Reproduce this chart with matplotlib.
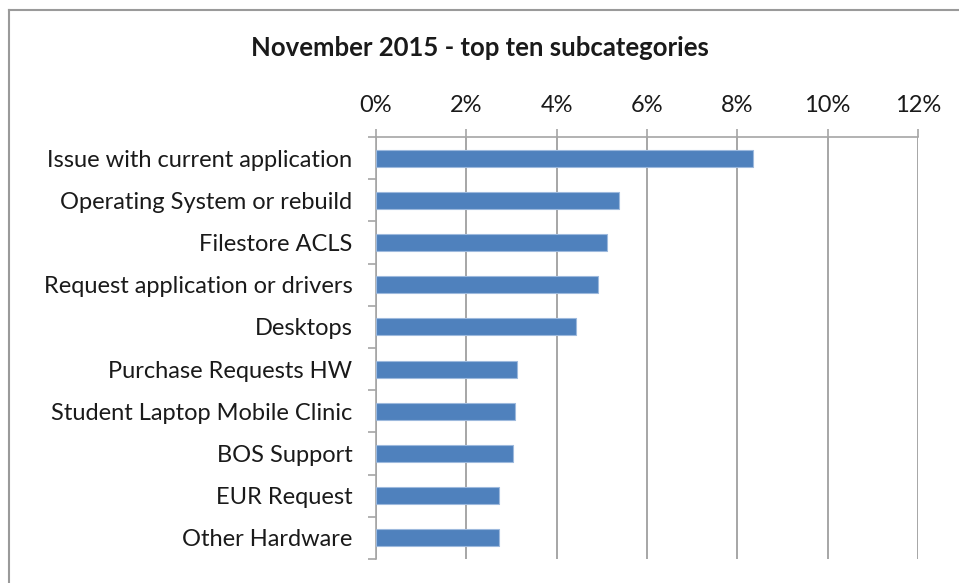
import matplotlib
matplotlib.use("Agg")
import matplotlib.pyplot as plt
from matplotlib.ticker import PercentFormatter, FixedLocator
from matplotlib.lines import Line2D
import numpy as np

categories = [
    "Issue with current application",
    "Operating System or rebuild",
    "Filestore ACLS",
    "Request application or drivers",
    "Desktops",
    "Purchase Requests HW",
    "Student Laptop Mobile Clinic",
    "BOS Support",
    "EUR Request",
    "Other Hardware",
]
values = [8.34, 5.37, 5.12, 4.92, 4.43, 3.12, 3.07, 3.04, 2.72, 2.72]
x_ticks = [0, 2, 4, 6, 8, 10, 12]
title = "November 2015 - top ten subcategories"

plt.rcParams['font.family'] = ['Lato', 'DejaVu Sans']

W, H = 959, 583
fig = plt.figure(figsize=(W / 100, H / 100), dpi=100)
fig.patch.set_facecolor("white")

# plot area in pixels
left, right, top, bottom = 376, 918, 137, 559
ax = fig.add_axes([left / W, 1 - bottom / H, (right - left) / W, (bottom - top) / H])

y = np.arange(len(categories))
ax.barh(y, values, height=0.4, color="#4F81BD", edgecolor="#9DB9DD", linewidth=0.8, zorder=3)

ax.set_xlim(0, 12)
ax.set_ylim(len(categories) - 0.5, -0.5)

ax.xaxis.set_ticks_position("top")
ax.set_xticks(x_ticks)
ax.xaxis.set_major_formatter(PercentFormatter(decimals=0))
ax.tick_params(axis="x", which="major", direction="out", length=6, width=1.2,
               color="#A6A6A6", labelsize=17, pad=9, labelcolor="#1a1a1a")
ax.grid(axis="x", color="#A6A6A6", linewidth=1.4, zorder=0)

ax.set_yticks(y)
ax.set_yticklabels(categories)
ax.yaxis.set_minor_locator(FixedLocator(np.arange(-0.5, len(categories), 1.0)))
ax.tick_params(axis="y", which="major", length=0, labelsize=17, pad=17, labelcolor="#1a1a1a")
ax.tick_params(axis="y", which="minor", direction="out", length=6, width=1.2, color="#A6A6A6")

for s in ["right", "bottom"]:
    ax.spines[s].set_visible(False)
for s in ["left", "top"]:
    ax.spines[s].set_color("#A6A6A6")
    ax.spines[s].set_linewidth(1.2)

fig.text(480 / W, 1 - 48 / H, title, ha="center", va="center",
         fontsize=18.5, fontweight="bold", color="#1a1a1a")

# outer chart border (top and left visible)
fig.add_artist(Line2D([9 / W, 1.01], [1 - 10 / H, 1 - 10 / H], transform=fig.transFigure,
                      color="#9A9A9A", linewidth=1.5))
fig.add_artist(Line2D([9 / W, 9 / W], [1 - 10 / H, -0.01], transform=fig.transFigure,
                      color="#9A9A9A", linewidth=1.5))

fig.savefig("out.png", dpi=100, facecolor="white")
